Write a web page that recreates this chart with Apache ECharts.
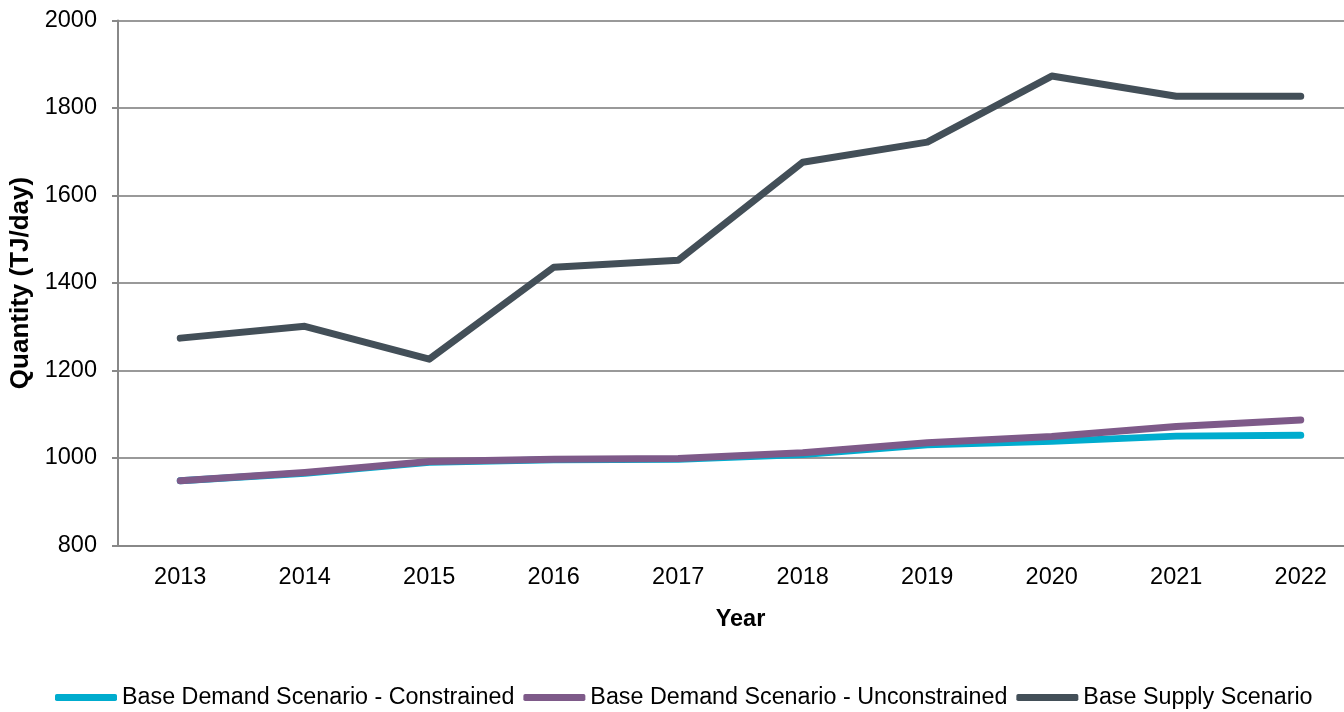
<!DOCTYPE html>
<html>
<head>
<meta charset="utf-8">
<script src="https://cdn.jsdelivr.net/npm/echarts@6/dist/echarts.min.js"></script>
<style>
  html, body { margin: 0; padding: 0; background: #fff; }
  #chart { width: 1344px; height: 712px; }
</style>
</head>
<body>
<div id="chart"></div>
<script>
// categories and series values
const years = ['2013', '2014', '2015', '2016', '2017', '2018', '2019', '2020', '2021', '2022']
const constrained = [948, 965, 990, 996, 997, 1008, 1030, 1038, 1050, 1052]
const unconstrained = [948, 967, 992, 997, 999, 1012, 1035, 1049, 1072, 1087]
const supply = [1274, 1301, 1226, 1436, 1452, 1676, 1722, 1873, 1827, 1827]

const font = 'Liberation Sans'

let chart = echarts.init(document.getElementById('chart'))

let option = {
  animation: false,
  // plot area runs past the right edge of the picture, as in the original
  grid: { left: 118, width: 1245, top: 20.5, height: 525, outerBoundsMode: 'none' },
  legend: {
    left: 50,
    top: 681,
    icon: 'roundRect',
    itemWidth: 62,
    itemHeight: 7,
    itemGap: 9,
    textStyle: { fontFamily: font, fontSize: 23.3, color: '#000' },
    data: ['Base Demand Scenario - Constrained', 'Base Demand Scenario - Unconstrained', 'Base Supply Scenario']
  },
  xAxis: {
    type: 'category',
    data: years,
    name: 'Year',
    nameLocation: 'middle',
    nameGap: 62,
    nameTextStyle: { fontFamily: font, fontSize: 23.5, fontWeight: 'bold', color: '#000' },
    axisLine: { lineStyle: { color: '#888', width: 2 } },
    axisTick: { length: 6, lineStyle: { color: '#888', width: 2 } },
    axisLabel: { fontFamily: font, fontSize: 23.5, color: '#000', margin: 20 }
  },
  yAxis: {
    type: 'value',
    min: 800,
    max: 2000,
    interval: 200,
    name: 'Quantity (TJ/day)',
    nameLocation: 'middle',
    nameGap: 77,
    nameTextStyle: { fontFamily: font, fontSize: 26, fontWeight: 'bold', color: '#000' },
    axisLine: { show: true, lineStyle: { color: '#888', width: 2 } },
    axisTick: { show: true, length: 6, lineStyle: { color: '#888', width: 2 } },
    axisLabel: { fontFamily: font, fontSize: 23.5, color: '#000', margin: 21, formatter: v => String(v) },
    splitLine: { lineStyle: { color: '#999', width: 2 } }
  },
  series: [
    {
      name: 'Base Demand Scenario - Constrained',
      type: 'line',
      data: constrained,
      symbol: 'none',
      color: '#00acce',
      lineStyle: { width: 7, cap: 'round', join: 'round' }
    },
    {
      name: 'Base Demand Scenario - Unconstrained',
      type: 'line',
      data: unconstrained,
      symbol: 'none',
      color: '#7e5a89',
      lineStyle: { width: 7, cap: 'round', join: 'round' }
    },
    {
      name: 'Base Supply Scenario',
      type: 'line',
      data: supply,
      symbol: 'none',
      color: '#434f58',
      lineStyle: { width: 7, cap: 'round', join: 'round' }
    }
  ]
}

chart.setOption(option)
</script>
</body>
</html>
